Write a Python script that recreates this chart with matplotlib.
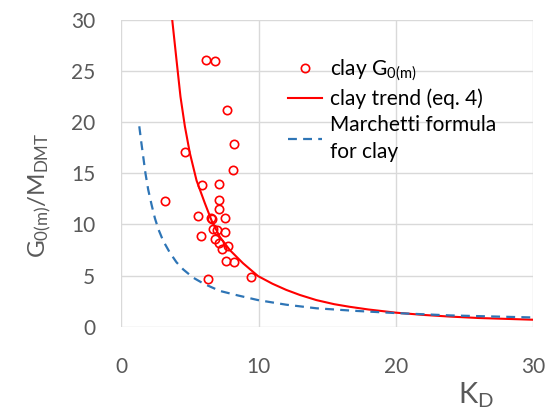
import matplotlib
matplotlib.use('Agg')
import matplotlib.pyplot as plt

plt.rcParams['font.family'] = ['Lato', 'DejaVu Sans']
plt.rcParams['mathtext.default'] = 'regular'

# measured clay points (K_D, G0(m)/M_DMT)
kd_clay = [6.15, 6.85, 7.67, 8.18, 4.64, 8.13, 5.88, 7.07, 3.16, 7.07, 7.11, 5.56, 6.51, 6.63,
           7.55, 6.65, 6.97, 7.55, 5.83, 6.80, 7.11, 7.36, 7.77, 7.62, 8.18, 6.29, 9.42]
g_clay = [26.1, 25.97, 21.2, 17.9, 17.1, 15.35, 13.9, 13.98, 12.3, 12.35, 11.5, 10.85, 10.6, 10.5,
          10.65, 9.6, 9.45, 9.25, 8.87, 8.54, 8.18, 7.63, 7.86, 6.42, 6.32, 4.63, 4.83]

# clay trend (eq. 4)
kd_trend = [3.70, 4.01, 4.30, 4.62, 4.98, 5.47, 6.07, 6.56, 7.16, 7.89, 8.86, 9.95, 11.0, 12.0,
            13.0, 14.2, 15.5, 16.6, 18.0, 20.0, 22.0, 23.9, 26.0, 30.0]
g_trend = [30.0, 26.1, 22.5, 19.6, 17.0, 14.3, 12.1, 10.4, 8.8, 7.5, 6.2, 4.95, 4.2, 3.6,
           3.1, 2.6, 2.2, 1.95, 1.68, 1.37, 1.15, 0.99, 0.85, 0.68]

# Marchetti formula for clay
kd_march = [1.30, 1.45, 1.59, 1.75, 1.95, 2.2, 2.44, 2.7, 3.04, 3.5, 4.01, 4.5, 5.22, 6.0, 7.16,
            8.5, 9.95, 12.0, 14.2, 17.0, 20.0, 24.0, 30.0]
g_march = [19.6, 18.0, 16.6, 15.0, 13.4, 11.9, 10.6, 9.5, 8.4, 7.3, 6.3, 5.6, 4.8, 4.2, 3.5,
           3.05, 2.6, 2.15, 1.8, 1.55, 1.33, 1.1, 0.9]

fig = plt.figure(figsize=(5.47, 4.16), dpi=100)
ax = fig.add_axes([0.222, 0.2147, 0.753, 0.7373])

ax.plot(kd_clay, g_clay, 'o', mfc='none', mec='#ff0000', mew=1.2, ms=6, label='clay G$_{0(m)}$', zorder=3)
ax.plot(kd_trend, g_trend, '-', color='#ff0000', lw=1.5, label='clay trend (eq. 4)', zorder=2)
ax.plot(kd_march, g_march, '--', color='#2e75b6', lw=1.6, dashes=(4, 2.8), label='Marchetti formula\nfor clay', zorder=2)

ax.set_xlim(0, 30)
ax.set_ylim(0, 30)
ax.set_xticks([0, 10, 20, 30])
ax.set_yticks([0, 5, 10, 15, 20, 25, 30])
ax.grid(True, color='#d9d9d9', lw=1)
ax.set_axisbelow(True)
for s in ax.spines.values():
    s.set_visible(False)
ax.tick_params(length=0, labelsize=15, labelcolor='#595959')
ax.tick_params(axis='y', pad=19)
ax.tick_params(axis='x', pad=22)

ax.set_xlabel('K$_D$', fontsize=21, color='#595959')
ax.xaxis.set_label_coords(0.86, -0.175)
ax.set_ylabel('G$_{0(m)}$/M$_{DMT}$', fontsize=17.5, color='#595959')
ax.yaxis.set_label_coords(-0.165, 0.43)

leg = ax.legend(loc='upper left', bbox_to_anchor=(0.385, 0.905), frameon=False, fontsize=15,
                handlelength=1.6, handletextpad=0.4, labelspacing=0.28, borderaxespad=0)
for t in leg.get_texts():
    t.set_linespacing(1.45)

plt.savefig('out.png', dpi=100)
